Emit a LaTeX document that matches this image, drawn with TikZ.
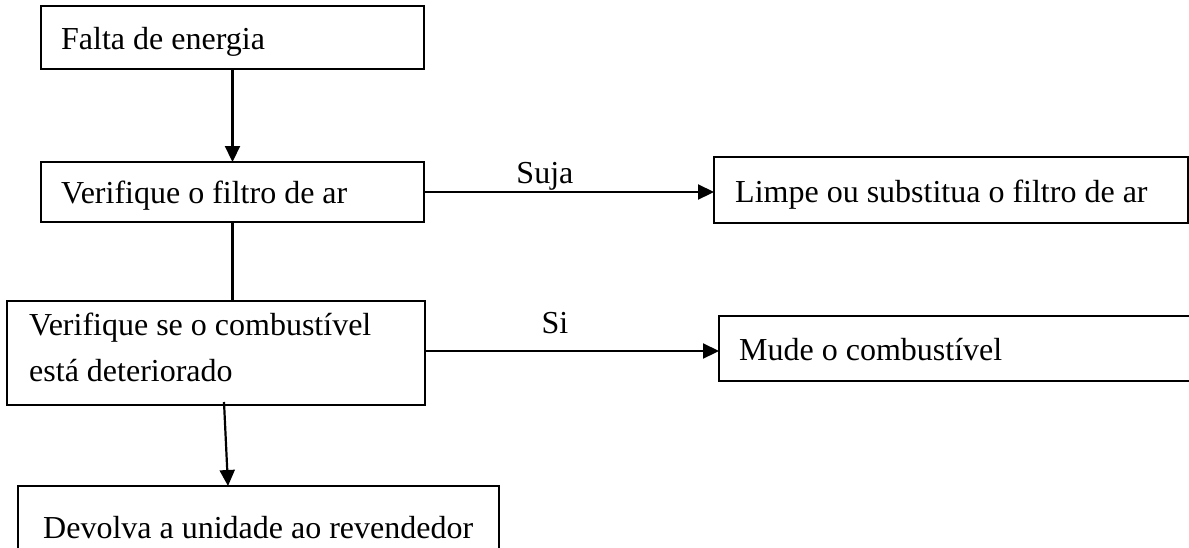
\documentclass[tikz,border=0pt]{standalone}
\usepackage{fontspec}
\setmainfont{Liberation Serif}
\usetikzlibrary{arrows.meta,calc}
\begin{document}
\begin{tikzpicture}[x=1pt,y=-1pt,
  box/.style={draw,line width=1.4pt,rectangle,inner sep=0pt,outer sep=0pt,anchor=north west},
  txt/.style={anchor=base west,inner sep=0pt,font=\fontsize{32}{38}\selectfont},
  lbl/.style={anchor=base,inner sep=0pt,font=\fontsize{32}{38}\selectfont},
  arr/.style={line width=2.2pt,-{Triangle[length=16pt,width=15pt]}},
  conn/.style={line width=2.2pt}]
\useasboundingbox (0,0) rectangle (1189,547);
\clip (0,0) rectangle (1189,547);
\fill[white] (0,0) rectangle (1189,547);
% boxes
\node[box,minimum width=383pt,minimum height=63pt] (b1) at (41,6) {};
\node[box,minimum width=383pt,minimum height=60pt] (b2) at (41,162) {};
\node[box,minimum width=474pt,minimum height=66pt] (b3) at (714,157) {};
\node[box,minimum width=418pt,minimum height=104pt] (b4) at (7,301) {};
\node[box,minimum width=490pt,minimum height=65pt] (b5) at (719,316) {};
\node[box,minimum width=481pt,minimum height=80pt] (b6) at (18,486) {};
% texts
\node[txt] (t1) at (61,49) {Falta de energia};
\node[txt] (t2) at (61,203) {Verifique o filtro de ar};
\node[txt] (t3) at (735,202) {Limpe ou substitua o filtro de ar};
\node[txt] (t4a) at (29,335) {Verifique se o combustível};
\node[txt] (t4b) at (29,381) {está deteriorado};
\node[txt] (t5) at (739,360) {Mude o combustível};
\node[txt] (t6) at (43,538) {Devolva a unidade ao revendedor};
% connectors
\draw[arr] (b1) -- (b2);
\draw[conn] (b2.south) -- (b2.south |- b4.north);
\draw[arr] (b2.east) -- (b2.east -| b3.west)
  node[lbl,pos=0.417,yshift=9pt] (l1) {Suja};
\draw[arr] ([yshift=2pt]b4.east) -- ([yshift=2pt]b4.east -| b5.west)
  node[lbl,pos=0.442,yshift=18pt] (l2) {Si};
\draw[arr] ([xshift=8pt,yshift=3pt]b4.south) -- ([xshift=-30.5pt]b6.north);
\end{tikzpicture}
\end{document}
